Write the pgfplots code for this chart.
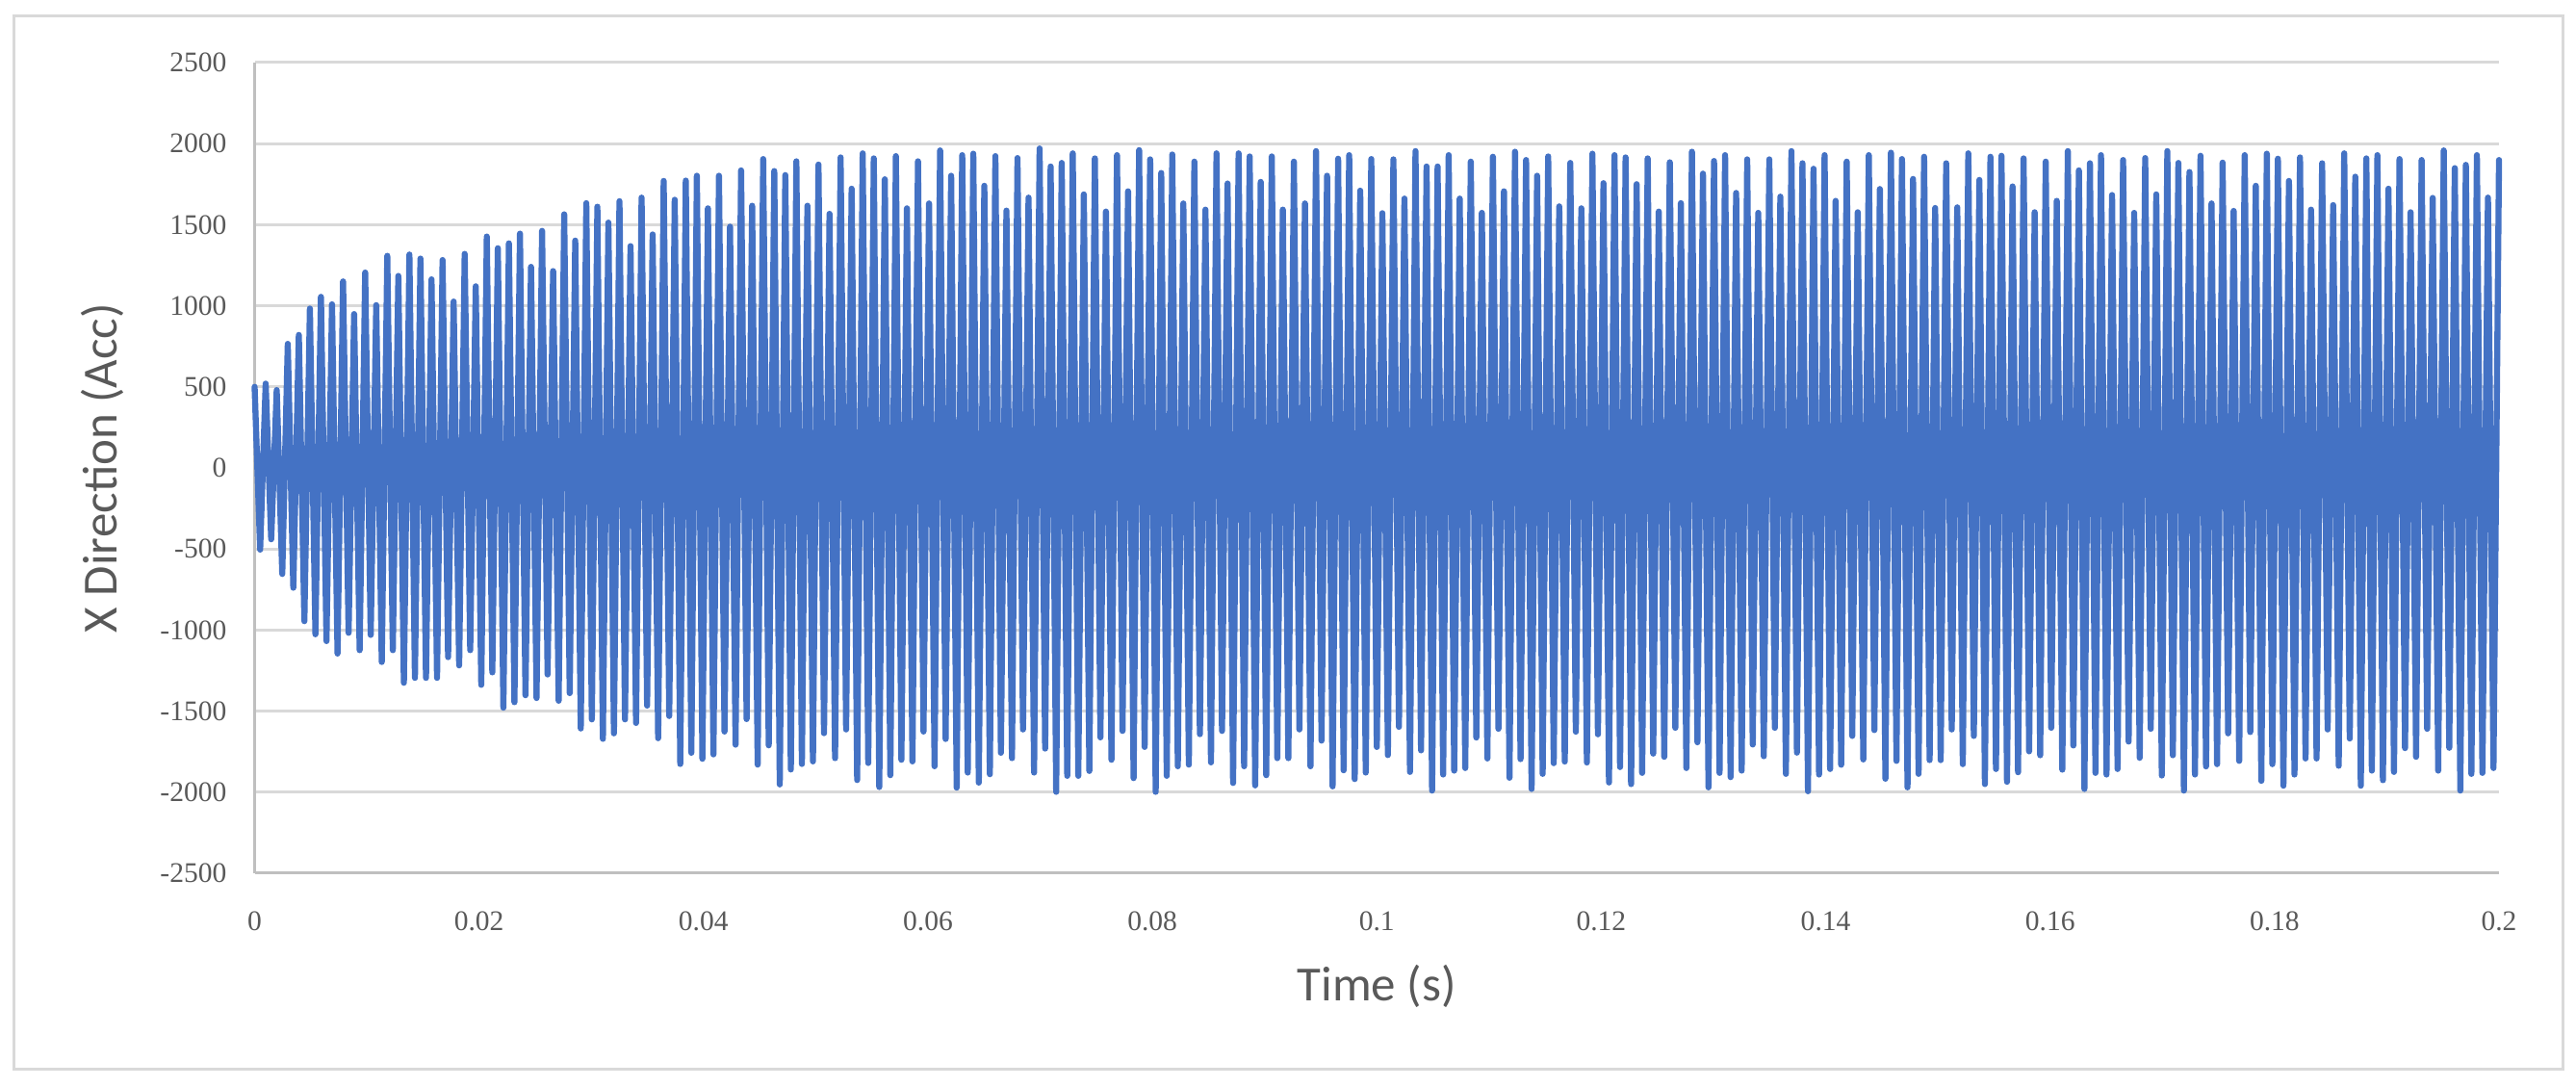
\documentclass[border=0pt]{standalone}
\usepackage{fontspec}
\usepackage{pgfplots}
\usepackage{pgfplotstable}
\pgfplotsset{compat=1.18}
\setmainfont{Carlito}
\newfontfamily\tickfont{Liberation Serif}
\definecolor{xlblue}{HTML}{4472C4}
\definecolor{gridgray}{HTML}{D9D9D9}
\definecolor{axgray}{HTML}{BFBFBF}
\definecolor{txtgray}{HTML}{595959}

% acceleration samples: peak, trough, peak, trough ... (0 to 0.2 s, evenly spaced)
\pgfplotstableread[row sep=\\]{
acc\\
500\\ -504\\ 520\\ -440\\ 480\\ -654\\ 765\\ -739\\ 820\\ -945\\
983\\ -1026\\ 1055\\ -1068\\ 1009\\ -1145\\ 1150\\ -1017\\ 949\\ -1124\\
1205\\ -1030\\ 1004\\ -1197\\ 1308\\ -1124\\ 1184\\ -1325\\ 1316\\ -1295\\
1291\\ -1295\\ 1163\\ -1295\\ 1282\\ -1167\\ 1026\\ -1218\\ 1320\\ -1124\\
1120\\ -1338\\ 1427\\ -1261\\ 1355\\ -1479\\ 1385\\ -1445\\ 1445\\ -1402\\
1240\\ -1419\\ 1462\\ -1274\\ 1214\\ -1436\\ 1564\\ -1389\\ 1402\\ -1607\\
1633\\ -1551\\ 1611\\ -1671\\ 1513\\ -1637\\ 1645\\ -1551\\ 1368\\ -1573\\
1667\\ -1466\\ 1440\\ -1667\\ 1770\\ -1530\\ 1654\\ -1826\\ 1772\\ -1757\\
1802\\ -1794\\ 1601\\ -1767\\ 1802\\ -1626\\ 1488\\ -1707\\ 1835\\ -1549\\
1617\\ -1830\\ 1905\\ -1711\\ 1831\\ -1952\\ 1806\\ -1860\\ 1891\\ -1826\\
1617\\ -1810\\ 1871\\ -1636\\ 1567\\ -1790\\ 1915\\ -1613\\ 1722\\ -1925\\
1940\\ -1820\\ 1909\\ -1968\\ 1780\\ -1895\\ 1923\\ -1800\\ 1601\\ -1810\\
1891\\ -1626\\ 1631\\ -1840\\ 1958\\ -1672\\ 1802\\ -1972\\ 1929\\ -1879\\
1938\\ -1941\\ 1740\\ -1889\\ 1923\\ -1757\\ 1587\\ -1790\\ 1911\\ -1613\\
1667\\ -1879\\ 1970\\ -1731\\ 1859\\ -1998\\ 1881\\ -1899\\ 1940\\ -1899\\
1687\\ -1869\\ 1909\\ -1662\\ 1581\\ -1800\\ 1929\\ -1622\\ 1706\\ -1913\\
1960\\ -1721\\ 1903\\ -1998\\ 1819\\ -1899\\ 1933\\ -1840\\ 1631\\ -1830\\
1889\\ -1642\\ 1593\\ -1816\\ 1940\\ -1622\\ 1754\\ -1943\\ 1940\\ -1840\\
1921\\ -1958\\ 1764\\ -1895\\ 1921\\ -1790\\ 1593\\ -1790\\ 1889\\ -1613\\
1631\\ -1840\\ 1954\\ -1682\\ 1802\\ -1964\\ 1907\\ -1865\\ 1929\\ -1919\\
1710\\ -1879\\ 1905\\ -1721\\ 1571\\ -1771\\ 1903\\ -1597\\ 1661\\ -1875\\
1954\\ -1742\\ 1859\\ -1990\\ 1859\\ -1891\\ 1929\\ -1867\\ 1661\\ -1851\\
1889\\ -1663\\ 1573\\ -1792\\ 1919\\ -1609\\ 1706\\ -1911\\ 1950\\ -1796\\
1899\\ -1980\\ 1802\\ -1887\\ 1921\\ -1821\\ 1613\\ -1811\\ 1881\\ -1627\\
1601\\ -1817\\ 1938\\ -1643\\ 1756\\ -1940\\ 1929\\ -1845\\ 1915\\ -1950\\
1750\\ -1881\\ 1909\\ -1762\\ 1581\\ -1782\\ 1885\\ -1603\\ 1633\\ -1851\\
1950\\ -1692\\ 1815\\ -1970\\ 1893\\ -1881\\ 1929\\ -1907\\ 1696\\ -1867\\
1903\\ -1706\\ 1573\\ -1778\\ 1903\\ -1603\\ 1673\\ -1887\\ 1954\\ -1756\\
1879\\ -1994\\ 1845\\ -1891\\ 1929\\ -1857\\ 1647\\ -1831\\ 1889\\ -1653\\
1577\\ -1798\\ 1929\\ -1617\\ 1720\\ -1917\\ 1944\\ -1807\\ 1905\\ -1970\\
1782\\ -1887\\ 1919\\ -1802\\ 1603\\ -1802\\ 1879\\ -1613\\ 1607\\ -1827\\
1940\\ -1653\\ 1776\\ -1950\\ 1919\\ -1857\\ 1925\\ -1936\\ 1736\\ -1877\\
1909\\ -1748\\ 1577\\ -1772\\ 1889\\ -1603\\ 1647\\ -1861\\ 1954\\ -1712\\
1835\\ -1980\\ 1879\\ -1881\\ 1929\\ -1891\\ 1683\\ -1857\\ 1899\\ -1688\\
1573\\ -1788\\ 1911\\ -1609\\ 1687\\ -1897\\ 1954\\ -1772\\ 1881\\ -1990\\
1825\\ -1891\\ 1925\\ -1841\\ 1631\\ -1827\\ 1883\\ -1637\\ 1585\\ -1807\\
1929\\ -1629\\ 1740\\ -1930\\ 1938\\ -1827\\ 1907\\ -1960\\ 1770\\ -1891\\
1915\\ -1792\\ 1593\\ -1792\\ 1879\\ -1613\\ 1621\\ -1837\\ 1940\\ -1669\\
1796\\ -1960\\ 1909\\ -1867\\ 1929\\ -1926\\ 1722\\ -1875\\ 1905\\ -1728\\
1577\\ -1782\\ 1899\\ -1609\\ 1665\\ -1867\\ 1958\\ -1726\\ 1849\\ -1990\\
1869\\ -1887\\ 1929\\ -1881\\ 1667\\ -1851\\ 1899\\
}\accdata

\begin{document}
\begin{tikzpicture}
\useasboundingbox (0,0) rectangle (267.6mm,112.9mm);
\draw[gridgray, line width=0.3mm] (1.4mm,1.8mm) rectangle (266.2mm,111.2mm);
\begin{axis}[
  at={(26.45mm,22.2mm)}, anchor=south west,
  width=233.15mm, height=84.2mm, scale only axis,
  xmin=0, xmax=0.2, ymin=-2500, ymax=2500,
  xtick={0,0.02,0.04,0.06,0.08,0.1,0.12,0.14,0.16,0.18,0.2},
  xticklabels={0,0.02,0.04,0.06,0.08,0.1,0.12,0.14,0.16,0.18,0.2},
  ytick={-2500,-2000,-1500,-1000,-500,0,500,1000,1500,2000,2500},
  yticklabels={-2500,-2000,-1500,-1000,-500,0,500,1000,1500,2000,2500},
  major tick length=0pt,
  ymajorgrids, grid style={gridgray, line width=0.3mm},
  axis x line=bottom, axis y line=left,
  axis line style={-, axgray, line width=0.3mm},
  ticklabel style={font=\tickfont\fontsize{8.4}{10}\selectfont, text=txtgray},
  yticklabel style={anchor=east, inner sep=0pt, xshift=-2.85mm},
  xticklabel style={anchor=north, inner sep=0pt, yshift=-3.9mm},
  xlabel={Time (s)}, ylabel={X Direction (Acc)},
  label style={font=\fontsize{14.5}{17}\selectfont, text=txtgray},
  xlabel style={at={(axis description cs:0.5,-0.139)}, anchor=center},
  ylabel style={at={(axis description cs:-0.068,0.5)}, anchor=center},
  clip=false,
]
\addplot[xlblue, line width=1.8pt, line join=round, line cap=round]
  table[x expr=\coordindex*0.2/406, y=acc] {\accdata};
\end{axis}
\end{tikzpicture}
\end{document}
